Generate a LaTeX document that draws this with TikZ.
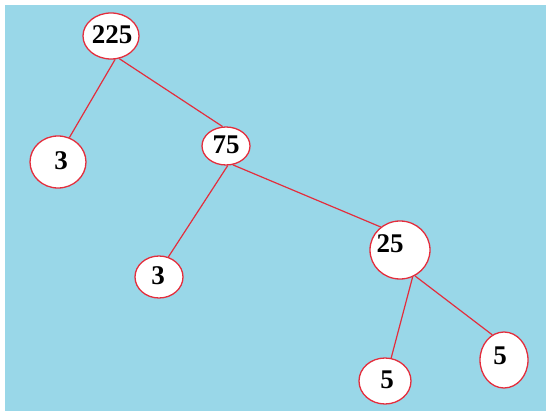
\documentclass[tikz,border=0pt]{standalone}
\usepackage{fontspec}
\setmainfont{Liberation Serif}
\usetikzlibrary{shapes.geometric}
\definecolor{bgblue}{RGB}{153,215,232}
\definecolor{edgered}{RGB}{228,45,60}
\begin{document}
\begin{tikzpicture}[x=1pt,y=-1pt,
  el/.style={ellipse,draw=edgered,fill=white,line width=1.3pt,inner sep=0pt},
  lbl/.style={font=\bfseries\fontsize{27}{27}\selectfont,inner sep=0pt},
  edge/.style={draw=edgered,line width=1.2pt}]
\fill[white] (0,0) rectangle (546,411);
\fill[bgblue] (5,5) rectangle (546,411);
\useasboundingbox (0,0) rectangle (546,411);
% nodes
\node[el,minimum width=56pt,minimum height=46pt] (n225) at (111,36) {};
\node[lbl] (t225) at (112,35) {225};
\node[el,minimum width=56pt,minimum height=52pt] (n3a) at (58,162) {};
\node[lbl] (t3a) at (61,161) {3};
\node[el,minimum width=48pt,minimum height=38pt] (n75) at (226,146) {};
\node[lbl] (t75) at (226,145) {75};
\node[el,minimum width=48pt,minimum height=42pt] (n3b) at (159,277) {};
\node[lbl] (t3b) at (158,276) {3};
\node[el,minimum width=60pt,minimum height=58pt] (n25) at (400,250) {};
\node[lbl] (t25) at (390,244) {25};
\node[el,minimum width=52pt,minimum height=46pt] (n5a) at (385,381) {};
\node[lbl] (t5a) at (387,380) {5};
\node[el,minimum width=48pt,minimum height=56pt] (n5b) at (504,360) {};
\node[lbl] (t5b) at (500,356) {5};
% edges
\draw[edge] (n225.-80) -- (n3a.65);
\draw[edge] (n225.-70) -- (n75.100);
\draw[edge] (n75.-85) -- (n3b.65);
\draw[edge] (n75.-70) -- (n25.130);
\draw[edge] (n25.-65) -- (n5a.75);
\draw[edge] (n25.-60) -- (n5b.115);
\end{tikzpicture}
\end{document}
